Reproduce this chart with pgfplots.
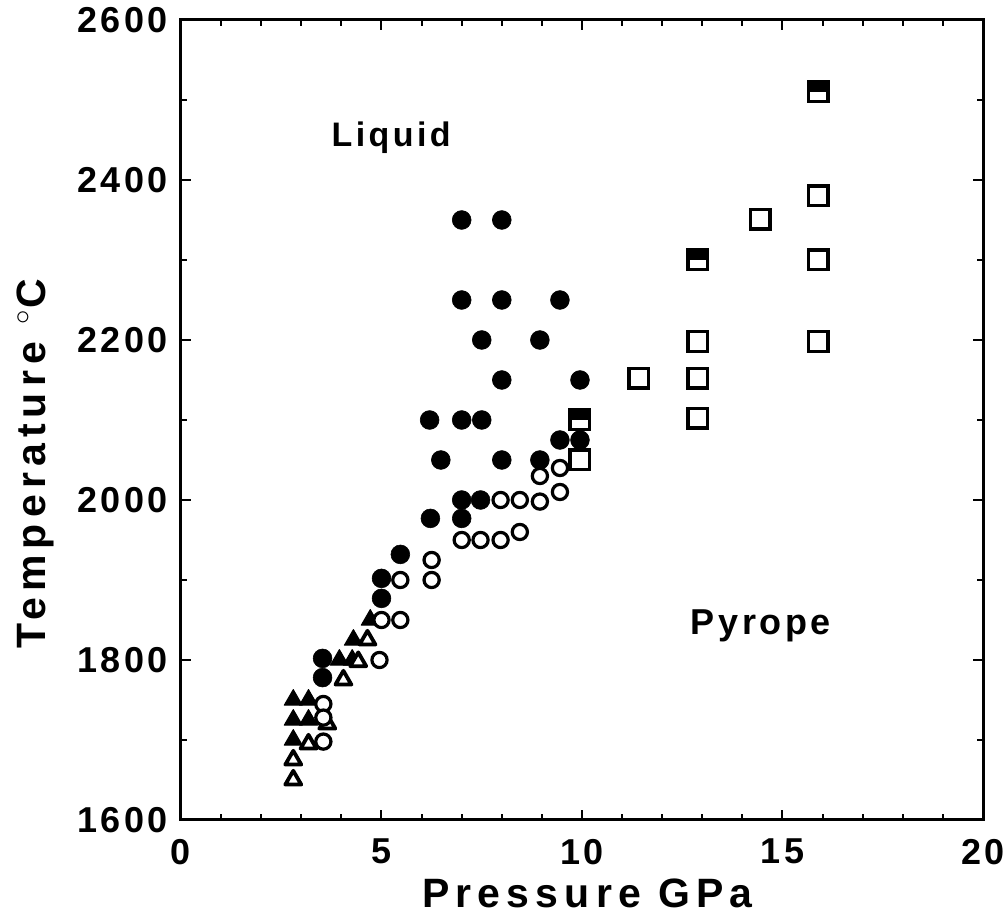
\documentclass[border=0pt]{standalone}
\usepackage{fontspec}
\setmainfont{Liberation Sans}[LetterSpace=10]
\newfontfamily\widefont{Liberation Sans}[LetterSpace=15]
\usepackage{pgfplots}
\pgfplotsset{compat=1.18}
\pgfdeclareplotmark{halfsq}{%
  \pgfpathrectangle{\pgfpoint{-\pgfplotmarksize}{-0.05\pgfplotmarksize}}{\pgfpoint{2\pgfplotmarksize}{1.05\pgfplotmarksize}}%
  \pgfusepathqfill
  \pgfpathrectangle{\pgfpoint{-\pgfplotmarksize}{-\pgfplotmarksize}}{\pgfpoint{2\pgfplotmarksize}{2\pgfplotmarksize}}%
  \pgfusepathqstroke
}
\begin{document}
\begin{tikzpicture}
\path[use as bounding box] (-90.5pt,-50pt) rectangle (413pt,410pt);
\begin{axis}[
  at={(0,0)}, anchor=south west,
  scale only axis, width=401pt, height=400pt,
  xmin=0, xmax=20, ymin=1600, ymax=2600,
  xtick={0,5,10,15,20}, minor xtick={1,2,3,4,6,7,8,9,11,12,13,14,16,17,18,19},
  ytick={1600,1800,2000,2200,2400,2600}, minor ytick={1700,1900,2100,2300,2500},
  tick align=inside, tick pos=both,
  major tick length=5pt, minor tick length=3pt,
  every tick/.style={line width=1pt, black},
  axis line style={line width=1.5pt},
  /pgf/number format/assume math mode=true,
  /pgf/number format/1000 sep={},
  tick label style={font=\bfseries\fontsize{18}{20}\selectfont},
  xticklabel style={yshift=-6pt},
  yticklabel style={xshift=-3pt},
  xlabel={\widefont\bfseries\fontsize{20.5}{22}\selectfont Pressure GPa},
  ylabel={\widefont\bfseries\fontsize{20.5}{22}\selectfont Temperature $^\circ$C},
  every axis x label/.style={at={(axis description cs:0.507,-0.092)},anchor=center,inner sep=0pt},
  every axis y label/.style={at={(axis description cs:-0.182,0.445)},anchor=center,rotate=90},
  clip=false,
]
% filled triangles
\addplot[only marks, mark=triangle*, mark size=5.2pt, mark options={fill=black, draw=black, line width=0.5pt, line join=round}] coordinates {
(4.72,1850)(4.3,1825)(3.95,1800)(4.27,1800)(2.8,1750)(3.18,1750)(2.8,1725)(3.18,1725)(2.8,1700)
};
% open triangles
\addplot[only marks, mark=triangle*, mark size=4.6pt, mark options={fill=white, draw=black, line width=1.9pt, line join=round}] coordinates {
(4.65,1825)(4.42,1798)(4.05,1775)(3.65,1720)(3.18,1695)(2.8,1675)(2.8,1650)
};
% open circles
\addplot[only marks, mark=*, mark size=3.8pt, mark options={fill=white, draw=black, line width=1.6pt}] coordinates {
(7,1950)(7.47,1950)(7.97,1950)(8.45,1960)
(7.97,2000)(8.45,2000)(8.95,1998)(9.45,2010)
(8.95,2030)(9.45,2040)
(6.25,1925)(6.25,1900)
(5.47,1900)(5.0,1850)(5.47,1850)
(4.95,1800)
(3.55,1745)(3.55,1728)(3.55,1698)
};
% filled circles
\addplot[only marks, mark=*, mark size=4.7pt, mark options={fill=black, draw=black, line width=0.3pt}] coordinates {
(7,2350)(8,2350)
(7,2250)(8,2250)(9.45,2250)
(7.5,2200)(8.95,2200)
(8,2150)(9.95,2150)
(6.2,2100)(7,2100)(7.5,2100)
(9.45,2075)(9.95,2075)
(6.48,2050)(8,2050)(8.95,2050)
(7,2000)(7.47,2000)
(6.22,1977)(7,1977)
(5.47,1932)
(5,1902)(5,1877)
(3.53,1802)(3.53,1778)
};
% open squares
\addplot[only marks, mark=square*, mark size=4.9pt, mark options={fill=white, draw=black, line width=1.7pt}] coordinates {
(15.89,2380)(14.44,2351)(15.89,2300)(12.89,2198)(15.89,2198)(11.42,2152)(12.89,2152)(12.89,2102)(9.95,2050)
};
% half-filled squares
\addplot[only marks, mark=halfsq, mark size=4.9pt, mark options={fill=black, draw=black, line width=1.7pt}] coordinates {
(15.89,2510)(12.89,2300)(9.95,2100)
};
\node[font=\bfseries\fontsize{17}{19}\selectfont] at (axis cs:5.24,2453) {Liquid};
\node[font=\bfseries\fontsize{18}{20}\selectfont] at (axis cs:14.46,1843) {Pyrope};
\end{axis}
\end{tikzpicture}
\end{document}
